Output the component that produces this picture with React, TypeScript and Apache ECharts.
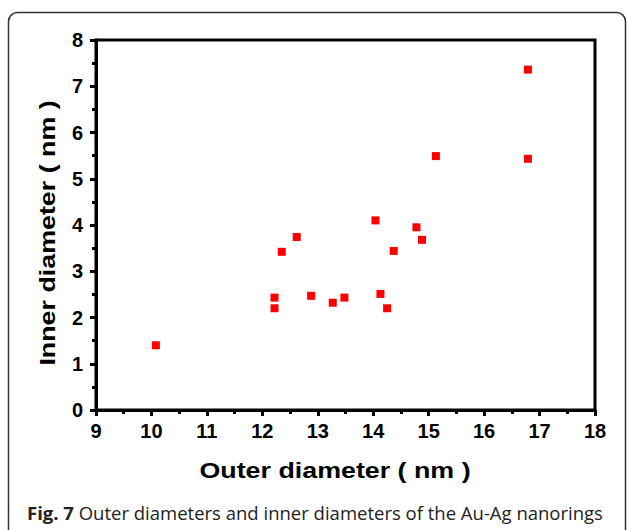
import React, { useEffect, useRef } from "react";
import * as echarts from "echarts";

const outerDiameter = [10.08, 12.22, 12.22, 12.35, 12.62, 12.88, 13.27, 13.48, 14.04, 14.13, 14.25, 14.37, 14.78, 14.88, 15.13, 16.79, 16.79];
const innerDiameter = [1.40, 2.43, 2.20, 3.42, 3.74, 2.47, 2.32, 2.43, 4.10, 2.51, 2.20, 3.44, 3.95, 3.68, 5.49, 7.36, 5.43];
const xTitle = "Outer diameter ( nm )";
const yTitle = "Inner diameter ( nm )";
const captionBold = "Fig. 7";
const captionText = " Outer diameters and inner diameters of the Au-Ag nanorings";

export default function App() {
  const ref = useRef<HTMLDivElement>(null);
  useEffect(() => {
    if (!ref.current) return;
    const chart = echarts.init(ref.current, null, { renderer: "svg" });
    const data = outerDiameter.map((x, i) => [x, innerDiameter[i]]);
    const font = "Liberation Sans";
    const labelStyle = { color: "#000", fontWeight: "bold" as const, fontSize: 20, fontFamily: font };
    chart.setOption({
      animation: false,
      backgroundColor: "#ffffff",
      textStyle: { fontFamily: font },
      grid: { left: 96, top: 40, width: 499, height: 370, show: true, borderColor: "#000", borderWidth: 3 },
      xAxis: {
        type: "value",
        min: 9,
        max: 18,
        interval: 1,
        splitLine: { show: false },
        axisLine: { show: true, lineStyle: { color: "#000", width: 3 } },
        axisTick: { show: true, inside: false, length: 6, lineStyle: { color: "#000", width: 3 } },
        minorTick: { show: true, splitNumber: 2, length: 4, lineStyle: { color: "#000", width: 3 } },
        axisLabel: { ...labelStyle, margin: 11 },
      },
      yAxis: {
        type: "value",
        min: 0,
        max: 8,
        interval: 1,
        splitLine: { show: false },
        axisLine: { show: true, lineStyle: { color: "#000", width: 3 } },
        axisTick: { show: true, inside: false, length: 6, lineStyle: { color: "#000", width: 3 } },
        minorTick: { show: true, splitNumber: 2, length: 4, lineStyle: { color: "#000", width: 3 } },
        axisLabel: { ...labelStyle, margin: 13 },
      },
      series: [
        {
          type: "scatter",
          data,
          symbol: "rect",
          symbolSize: 8,
          itemStyle: { color: "#ff0000", opacity: 1 },
        },
      ],
      graphic: [
        {
          type: "rect",
          shape: { x: 8.5, y: 12.5, width: 617, height: 530, r: 9 },
          style: { fill: "none", stroke: "#333", lineWidth: 1.5 },
          silent: true,
        },
        {
          type: "text",
          x: 335,
          y: 470,
          scaleX: 1.22,
          style: { text: xTitle, fontFamily: font, fontWeight: "bold", fontSize: 22, fill: "#000", align: "center", verticalAlign: "middle" },
        },
        {
          type: "text",
          x: 47,
          y: 233,
          rotation: Math.PI / 2,
          scaleX: 1.22,
          style: { text: yTitle, fontFamily: font, fontWeight: "bold", fontSize: 22, fill: "#000", align: "center", verticalAlign: "middle" },
        },
        {
          type: "text",
          x: 27,
          y: 512,
          style: {
            text: `{b|${captionBold}}{r|${captionText}}`,
            verticalAlign: "middle",
            rich: {
              b: { fontFamily: "Open Sans", fontWeight: "bold", fontSize: 18.5, fill: "#222" },
              r: { fontFamily: "Open Sans", fontWeight: "normal", fontSize: 18.5, fill: "#222" },
            },
          },
        },
      ],
    });
    return () => chart.dispose();
  }, []);
  return <div ref={ref} style={{ position: "fixed", left: 0, top: 0, width: 627, height: 530 }} />;
}
